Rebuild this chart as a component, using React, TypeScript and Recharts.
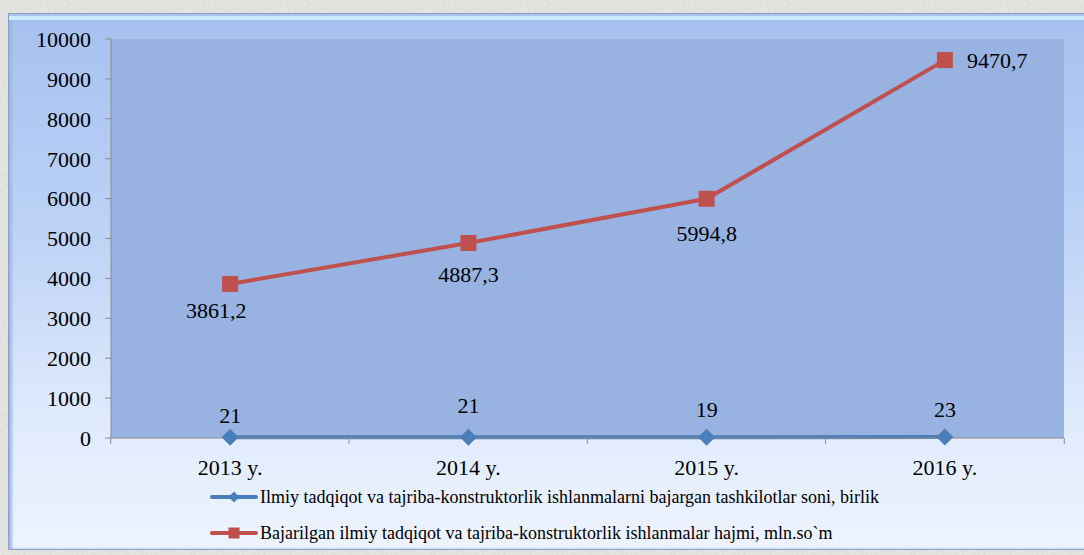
import React from "react";
import { LineChart, Line, XAxis, YAxis, CartesianGrid, LabelList, Legend } from "recharts";

const categories = ["2013 y.", "2014 y.", "2015 y.", "2016 y."];
const orgCount = [21, 21, 19, 23];
const workVolume = [3861.2, 4887.3, 5994.8, 9470.7];
const yTicks = [0, 1000, 2000, 3000, 4000, 5000, 6000, 7000, 8000, 9000, 10000];
const seriesNames = [
  "Ilmiy tadqiqot va tajriba-konstruktorlik ishlanmalarni bajargan tashkilotlar soni, birlik",
  "Bajarilgan ilmiy tadqiqot va tajriba-konstruktorlik ishlanmalar hajmi, mln.so`m",
];

const data = categories.map((c, i) => ({ name: c, org: orgCount[i], vol: workVolume[i] }));

const FONT = "'Liberation Serif', 'Times New Roman', serif";
const BLUE = "#4a7ebb";
const RED = "#c0504d";
const PLOT_W = 955;
const BAND = PLOT_W / categories.length;

const fmt = (v: number) => String(v).replace(".", ",");

const XTick = (props: any) => {
  const { x, y, payload, index } = props;
  const last = index === categories.length - 1;
  return (
    <g>
      <line x1={x - BAND / 2} x2={x - BAND / 2} y1={y - 8} y2={y - 2} stroke="#8c8c8c" />
      {last && <line x1={x + BAND / 2} x2={x + BAND / 2} y1={y - 8} y2={y - 2} stroke="#8c8c8c" />}
      <text x={x} y={y + 29} textAnchor="middle" fontFamily={FONT} fontSize={22} fill="#000">
        {payload.value}
      </text>
    </g>
  );
};

const Diamond = (props: any) => {
  const { cx, cy } = props;
  if (cx == null || cy == null) return null;
  const r = 8.5;
  return <path d={`M${cx},${cy - r} L${cx + r},${cy} L${cx},${cy + r} L${cx - r},${cy} Z`} fill={BLUE} />;
};

const Square = (props: any) => {
  const { cx, cy } = props;
  if (cx == null || cy == null) return null;
  return <rect x={cx - 8} y={cy - 8} width={16} height={16} fill={RED} />;
};

const RedLabel = (props: any) => {
  const { x, y, value, index } = props;
  const offs = [
    [-14, 34, "middle"],
    [0, 39, "middle"],
    [0, 42, "middle"],
    [22, 8, "start"],
  ][index] as [number, number, "middle" | "start"];
  return (
    <text x={x + offs[0]} y={y + offs[1]} textAnchor={offs[2]} fontFamily={FONT} fontSize={22} fill="#000">
      {fmt(value)}
    </text>
  );
};

const BlueLabel = (props: any) => {
  const { x, y, value, index } = props;
  const dy = [-14, -24, -20, -20][index] ?? -20;
  return (
    <text x={x} y={y + dy} textAnchor="middle" fontFamily={FONT} fontSize={22} fill="#000">
      {value}
    </text>
  );
};

const LegendContent = () => (
  <div style={{ fontFamily: FONT, fontSize: 18, color: "#000", lineHeight: 1 }}>
    {seriesNames.map((n, i) => (
      <div key={i} style={{ display: "flex", alignItems: "center", height: 36, whiteSpace: "nowrap" }}>
        <svg width={48} height={14} style={{ marginRight: 2, flex: "none" }}>
          <line x1={2} x2={46} y1={7} y2={7} stroke={i === 0 ? BLUE : RED} strokeWidth={4} strokeLinecap="round" />
          {i === 0 ? (
            <path d="M24,1.5 L29.5,7 L24,12.5 L18.5,7 Z" fill={BLUE} />
          ) : (
            <rect x={18.5} y={1.5} width={11} height={11} fill={RED} />
          )}
        </svg>
        <span>{n}</span>
      </div>
    ))}
  </div>
);

const noiseSvg =
  "<svg xmlns='http://www.w3.org/2000/svg' width='240' height='240'><filter id='n'><feTurbulence type='fractalNoise' baseFrequency='0.7' numOctaves='3' seed='4'/><feColorMatrix values='0 0 0 0 0.6 0 0 0 0 0.6 0 0 0 0 0.58 0 0 0 0.9 -0.15'/></filter><rect width='240' height='240' fill='#ecebe8'/><rect width='240' height='240' filter='url(#n)'/></svg>";
const noise = `url("data:image/svg+xml,${encodeURIComponent(noiseSvg)}")`;

export default function App() {
  return (
    <div
      style={{
        position: "fixed",
        left: 0,
        top: 0,
        width: 1084,
        height: 555,
        backgroundColor: "#e6e6e3",
        backgroundImage: noise,
        overflow: "hidden",
      }}
    >
      <div
        style={{
          position: "absolute",
          left: 8,
          top: 13,
          width: 1080,
          height: 537,
          background: "linear-gradient(to bottom, #a6c1f0 0%, #bcd2f6 40%, #dfeafd 75%, #eef4fe 100%)",
          border: "1px solid #8c9fc0",
          boxShadow: "inset 0 2px 0 #a8c3ee, inset 0 6px 0 #c9ecff, inset 3px 0 3px #9fb8e6",
          boxSizing: "border-box",
        }}
      >
        <LineChart
          width={1078}
          height={535}
          data={data}
          margin={{ top: 25, right: 23, bottom: 0, left: 0 }}
        >
          <CartesianGrid fill="#98b3e2" horizontal={false} vertical={false} stroke="none" />
          <XAxis
            dataKey="name"
            scale="band"
            axisLine={{ stroke: "#8c8c8c" }}
            tickLine={false}
            tick={<XTick />}
            height={39}
            interval={0}
          />
          <YAxis
            domain={[0, 10000]}
            ticks={yTicks}
            width={102}
            axisLine={{ stroke: "#8c8c8c" }}
            tickLine={{ stroke: "#8c8c8c" }}
            tickSize={6}
            tick={{ fontFamily: FONT, fontSize: 22, fill: "#000" }}
            tickMargin={14}
            interval={0}
          />
          <Legend
            verticalAlign="bottom"
            content={<LegendContent />}
            wrapperStyle={{ left: 201, bottom: -2, width: 860, height: 72 }}
          />
          <Line
            type="linear"
            dataKey="org"
            name={seriesNames[0]}
            stroke={BLUE}
            strokeWidth={4}
            dot={<Diamond />}
            activeDot={false}
            isAnimationActive={false}
          >
            <LabelList dataKey="org" content={<BlueLabel />} />
          </Line>
          <Line
            type="linear"
            dataKey="vol"
            name={seriesNames[1]}
            stroke={RED}
            strokeWidth={4}
            dot={<Square />}
            activeDot={false}
            isAnimationActive={false}
          >
            <LabelList dataKey="vol" content={<RedLabel />} />
          </Line>
        </LineChart>
      </div>
    </div>
  );
}
